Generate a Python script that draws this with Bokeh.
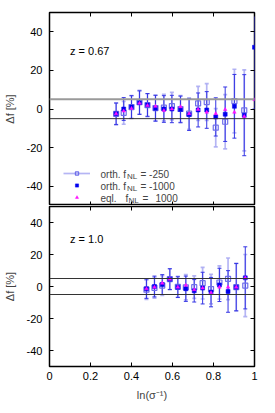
from bokeh.plotting import figure
from bokeh.layouts import column
from bokeh.models import (Range1d, LinearAxis, FixedTicker, Span, ColumnDataSource,
                          Label, Legend, LegendItem)
from bokeh.embed import file_html
from bokeh.resources import INLINE

# ---------------- data ----------------
x_ticks = [0, 0.2, 0.4, 0.6, 0.8, 1.0]
x_tick_labels = ["0", "0.2", "0.4", "0.6", "0.8", "1"]
y_ticks = [-40, -20, 0, 20, 40]
y_tick_labels = ["-40", "-20", "0", "20", "40"]

# z = 0.67 panel
x_z067 = [0.325, 0.362, 0.400, 0.439, 0.478, 0.517, 0.558, 0.597, 0.639,
          0.681, 0.725, 0.767, 0.811, 0.857, 0.902, 0.950, 1.000]
open_z067 = [-2.5, -2.0, 1.0, 3.5, 2.0, 0.5, 0.7, 1.5, 0.0,
             -2.4, 2.9, 3.6, -9.7, -6.6, 4.1, -0.7]
filled_z067 = [-2.5, 0.0, 1.0, 3.3, 2.1, 0.4, 0.0, 0.0, -0.2,
               -2.9, -0.5, -0.5, -4.1, -2.7, 1.4, -3.2, 32.0]
eql_z067 = [-2.5, -1.0, 0.3, 3.0, 1.8, 1.4, -0.8, 0.0, 1.2,
            -2.4, -0.2, -1.7, -2.4, -0.3, -1.7, -3.9, 4.8]
err_z067 = [5.6, 5.9, 5.9, 6.1, 5.9, 6.7, 6.9, 7.1, 6.9,
            8.2, 8.8, 9.5, 9.9, 14.1, 16.5, 21.0, 32.0]

# z = 1.0 panel
x_z10 = [0.473, 0.512, 0.550, 0.587, 0.626, 0.665, 0.706, 0.747, 0.788,
         0.829, 0.871, 0.911, 0.955]
open_z10 = [-2.0, -0.8, 0.6, 4.6, -0.2, -0.5, -0.4, 2.1, -1.6, 2.5, 4.8, -0.4, 0.6]
filled_z10 = [-1.4, 0.0, 1.2, 4.6, -0.4, -1.4, -2.7, -1.0, -3.5, 1.0, -3.1, -0.4, 5.4]
eql_z10 = [-1.4, -0.4, 2.1, 4.6, -0.4, 0.8, -2.0, -1.0, -3.9, -0.4, -0.4, -0.4, 5.4]
err_z10 = [6.0, 6.5, 6.2, 6.5, 6.5, 7.9, 7.0, 9.9, 9.2, 10.4, 13.0, 14.8, 19.4]

ref_levels = [5, -5]

# ---------------- styles ----------------
FONT = "Liberation Sans"
LIGHT = "#a8a8f2"
OPEN_C = "#7070ea"
DARK = "#3434e4"
FILLED = "#0000ee"
MAG = "#ff10ff"


def bars(p, xs, ys, es, color, width, alpha=1.0):
    src = ColumnDataSource(dict(x=xs, lo=[y - e for y, e in zip(ys, es)],
                                hi=[y + e for y, e in zip(ys, es)]))
    seg = p.segment(x0="x", y0="lo", x1="x", y1="hi", source=src,
                    line_color=color, line_width=width, line_alpha=alpha)
    p.scatter(x="x", y="lo", source=src, marker="dash", size=4,
              line_color=color, line_width=width, line_alpha=alpha)
    p.scatter(x="x", y="hi", source=src, marker="dash", size=4,
              line_color=color, line_width=width, line_alpha=alpha)
    return seg


def make_panel(height, border_top, border_bottom, xlabels, span_styles):
    p = figure(width=267, height=height, x_range=Range1d(0, 1), y_range=Range1d(-50, 50),
               output_backend="svg", toolbar_location=None,
               x_axis_location=None, y_axis_location=None,
               min_border_left=49, min_border_right=13,
               min_border_top=border_top, min_border_bottom=border_bottom)
    p.grid.visible = False
    p.outline_line_color = "black"
    p.outline_line_width = 1.5
    p.background_fill_color = "white"
    p.border_fill_color = "white"

    def style(ax, labels):
        ax.axis_line_color = None
        ax.major_tick_in = 4
        ax.major_tick_out = 0
        ax.minor_tick_line_color = None
        ax.major_tick_line_color = "black"
        ax.major_tick_line_width = 1
        if labels is None:
            ax.major_label_text_font_size = "0px"
            ax.major_label_standoff = 0
        else:
            ax.major_label_text_font = FONT
            ax.major_label_text_font_size = "11px"
            ax.major_label_text_color = "black"

    left = LinearAxis(ticker=FixedTicker(ticks=y_ticks),
                      major_label_overrides={t: l for t, l in zip(y_ticks, y_tick_labels)})
    style(left, True)
    left.major_label_standoff = 7
    left.axis_label = "Δf [%]"
    left.axis_label_text_font = FONT
    left.axis_label_text_font_size = "11px"
    left.axis_label_text_font_style = "normal"
    left.axis_label_standoff = 8
    p.add_layout(left, "left")

    right = LinearAxis(ticker=FixedTicker(ticks=y_ticks),
                       major_label_overrides={t: "" for t in y_ticks})
    style(right, None)
    p.add_layout(right, "right")

    top = LinearAxis(ticker=FixedTicker(ticks=x_ticks),
                     major_label_overrides={t: "" for t in x_ticks})
    style(top, None)
    p.add_layout(top, "above")

    if xlabels:
        bottom = LinearAxis(ticker=FixedTicker(ticks=x_ticks),
                            major_label_overrides={t: l for t, l in zip(x_ticks, x_tick_labels)})
        style(bottom, True)
        bottom.major_label_standoff = 5
        bottom.axis_label = "ln(σ⁻¹)"
        bottom.axis_label_text_font = FONT
        bottom.axis_label_text_font_size = "11px"
        bottom.axis_label_text_font_style = "normal"
        bottom.axis_label_standoff = 6
    else:
        bottom = LinearAxis(ticker=FixedTicker(ticks=x_ticks),
                            major_label_overrides={t: "" for t in x_ticks})
        style(bottom, None)
    p.add_layout(bottom, "below")

    for lvl, (c, w) in zip(ref_levels, span_styles):
        p.add_layout(Span(location=lvl, dimension="width", line_color=c, line_width=w))
    return p


def fill_panel(p, xs, opn, fil, eql, err, zlabel):
    n_open = len(opn)
    seg_l = bars(p, xs[:n_open], opn, err[:n_open], LIGHT, 1.7, 0.85)
    bars(p, xs, fil, err, DARK, 1.0)
    sq_open = p.scatter(x=xs[:n_open], y=opn, marker="square", size=5,
                        fill_color=None, line_color=OPEN_C, line_width=1.2)
    sq_fill = p.scatter(x=xs, y=fil, marker="square", size=4,
                        fill_color=FILLED, line_color=FILLED, line_width=0.5)
    tri = p.scatter(x=xs, y=eql, marker="triangle", size=3.5,
                    fill_color=MAG, line_color=MAG, line_width=0.5)
    p.add_layout(Label(x=0.1, y=30, text=zlabel, text_font=FONT, text_font_size="11px",
                       text_baseline="middle", text_color="black"))
    return seg_l, sq_open, sq_fill, tri


p1 = make_panel(205, 12, 0, False, [("#9a9a9a", 2.0), ("#333333", 1.0)])
seg_l, sq_open, sq_fill, tri = fill_panel(p1, x_z067, open_z067, filled_z067, eql_z067,
                                          err_z067, "z = 0.67")

legend = Legend(items=[LegendItem(label=" ", renderers=[seg_l, sq_open]),
                       LegendItem(label=" ", renderers=[sq_fill]),
                       LegendItem(label=" ", renderers=[tri])],
                location=(14, 2), padding=0, margin=0, spacing=0,
                glyph_width=27, glyph_height=8, label_height=12, label_width=4,
                label_standoff=2, border_line_color=None, background_fill_alpha=0,
                label_text_font_size="2px")
p1.add_layout(legend)

# legend text pieces: (text, x in px from frame left, font size, drop below baseline)
leg_rows = [
    [("orth. f", 51, "10px", 0), ("NL", 77.5, "8px", 2.3), ("= -250", 91, "10px", 0)],
    [("orth. f", 51, "10px", 0), ("NL", 77.5, "8px", 2.3), ("= -1000", 91, "10px", 0)],
    [("eql.", 51, "10px", 0), ("f", 76, "10px", 0), ("NL", 79, "8px", 2.3),
     ("=", 93, "10px", 0), ("1000", 106, "10px", 0)],
]
for i, pieces in enumerate(leg_rows):
    yc = 34 - 12 * i
    for txt, xp, fs, drop in pieces:
        p1.add_layout(Label(x=xp, y=yc - 2.6 - drop, x_units="screen", y_units="screen",
                            text=txt, text_font=FONT, text_font_size=fs,
                            text_baseline="alphabetic"))

p2 = make_panel(199, 1, 38, True, [("#333333", 1.0), ("#333333", 1.0)])
fill_panel(p2, x_z10, open_z10, filled_z10, eql_z10, err_z10, "z = 1.0")

layout = column(p1, p2, spacing=0)
open("out.html", "w").write(file_html(layout, INLINE))
